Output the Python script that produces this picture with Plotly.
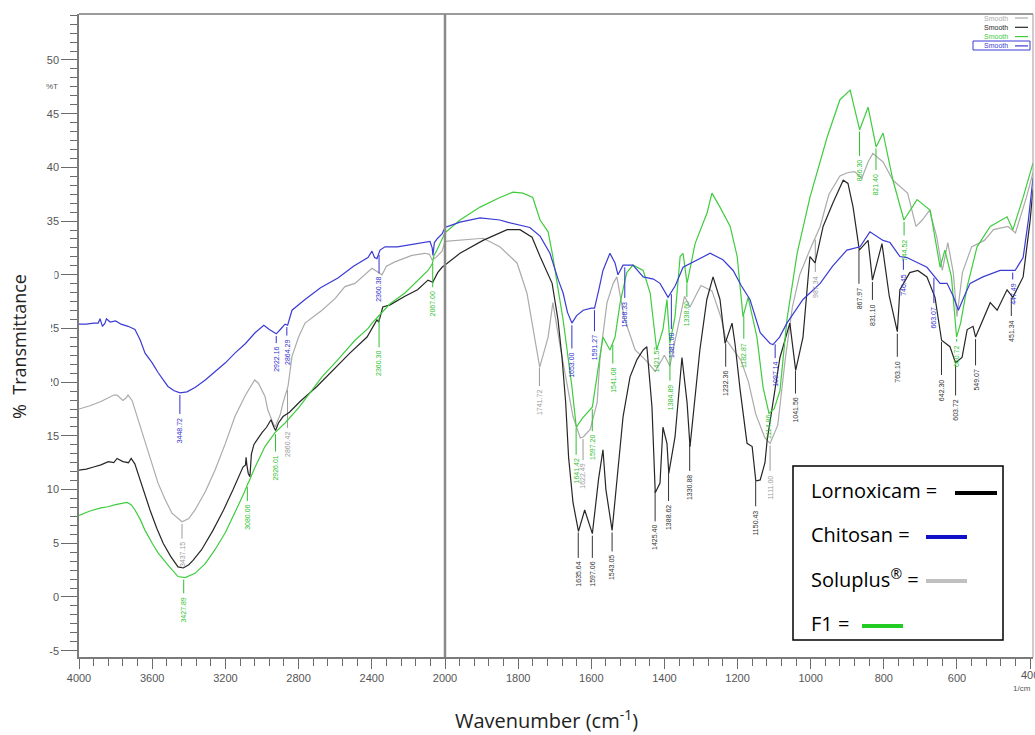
import numpy as np
import plotly.graph_objects as go

# ---------------- spectra: (wavenumber 1/cm, %T) ----------------
LORNOXICAM = [
    (4000, 11.8), (3960, 11.9), (3920, 12.1), (3880, 12.3), (3840, 12.6), (3810, 12.5),
    (3792, 12.9), (3760, 12.6), (3730, 12.5), (3715, 12.9), (3695, 12.4), (3667, 10.9),
    (3640, 9.4), (3612, 8.1), (3575, 6.4), (3540, 5.0), (3500, 3.8), (3459, 2.8),
    (3430, 2.7), (3400, 3.0), (3377, 3.4), (3330, 4.4), (3268, 6.2), (3210, 8.1),
    (3158, 10.0), (3120, 11.4), (3104, 12.1), (3090, 12.3), (3087, 13.0), (3082, 12.2),
    (3075, 11.5), (3066, 11.2), (3058, 13.3), (3044, 14.2), (3000, 15.3), (2975, 15.8),
    (2951, 16.5), (2935, 15.8), (2926, 15.5), (2910, 16.2), (2885, 16.8), (2850, 17.2),
    (2792, 18.2), (2700, 19.6), (2612, 21.1), (2520, 22.7), (2426, 24.2), (2390, 25.2),
    (2372, 25.8), (2362, 25.6), (2340, 27.0), (2300, 27.2), (2219, 28.0), (2150, 28.6),
    (2093, 29.5), (2067, 29.3), (2040, 30.2), (2016, 30.7), (2000, 30.9),
    (1959, 32.0), (1896, 33.2), (1830, 34.2), (1795, 34.2), (1762, 33.5), (1740, 31.7),
    (1707, 29.2), (1691, 25.8), (1680, 22.3), (1670, 18.1), (1662, 13.0), (1650, 8.8),
    (1635, 6.1), (1618, 8.1), (1597, 5.9), (1580, 11.0), (1568, 13.7), (1560, 10.0),
    (1543, 6.2), (1513, 16.8), (1494, 20.5), (1475, 22.1), (1458, 23.0), (1448, 23.3),
    (1434, 17.7), (1425, 9.7), (1412, 10.6), (1404, 15.8), (1393, 14.3), (1388, 11.5),
    (1371, 14.9), (1352, 22.3), (1338, 18.1), (1330, 14.0), (1303, 23.0), (1284, 27.7),
    (1267, 29.8), (1248, 27.7), (1234, 23.6), (1215, 25.5), (1207, 23.6), (1193, 19.3),
    (1174, 14.3), (1160, 14.0), (1150, 10.8), (1138, 10.9), (1125, 12.5), (1119, 14.6),
    (1084, 22.3), (1057, 25.5), (1041, 21.1), (1021, 24.2), (1002, 31.7), (988, 31.1),
    (966, 34.5), (939, 36.7), (911, 38.8), (898, 38.5), (884, 36.3), (867, 32.3),
    (843, 33.2), (831, 29.5), (805, 32.9), (785, 28.0), (763, 24.7), (756, 28.6),
    (729, 30.2), (707, 30.4), (682, 29.8), (660, 27.9), (642, 23.9), (619, 23.3),
    (604, 21.8), (586, 22.3), (572, 24.9), (556, 25.2), (549, 24.2), (509, 27.4),
    (490, 26.7), (463, 28.6), (447, 27.9), (419, 29.8), (400, 35.0), (392, 38.0),
]

CHITOSAN = [
    (4000, 25.4), (3960, 25.4), (3920, 25.5), (3895, 25.5), (3885, 25.9), (3872, 25.2),
    (3858, 25.5), (3850, 25.9), (3830, 25.6), (3800, 25.7), (3770, 25.4), (3732, 25.2),
    (3694, 24.9), (3665, 23.9), (3639, 22.7), (3600, 21.8), (3568, 20.9), (3514, 19.6),
    (3480, 19.2), (3448, 19.0), (3410, 19.1), (3366, 19.5), (3310, 20.2), (3257, 21.0),
    (3200, 21.8), (3148, 22.7), (3090, 23.6), (3038, 24.6), (2990, 25.3), (2960, 24.9),
    (2922, 24.5), (2895, 25.0), (2874, 25.4), (2860, 25.3), (2836, 26.7), (2765, 27.7),
    (2680, 28.8), (2585, 29.7), (2500, 30.8), (2421, 31.6), (2399, 32.2), (2385, 31.6),
    (2372, 31.5), (2355, 32.3), (2328, 32.6), (2260, 32.6), (2219, 32.7), (2150, 32.9),
    (2082, 33.1), (2070, 32.5), (2066, 31.8), (2058, 33.0), (2040, 33.4), (2016, 33.8),
    (2000, 34.4),
    (1959, 34.9), (1904, 35.3), (1850, 35.1), (1830, 34.9), (1768, 34.4), (1740, 33.6),
    (1713, 32.0), (1690, 29.5), (1677, 28.3), (1665, 26.5), (1653, 25.5), (1640, 26.2),
    (1622, 26.7), (1600, 26.9), (1591, 26.9), (1580, 28.5), (1568, 30.4), (1549, 32.0),
    (1540, 31.5), (1535, 31.1), (1527, 30.0), (1513, 30.9), (1486, 30.9), (1458, 29.8),
    (1430, 29.6), (1412, 29.2), (1390, 27.9), (1370, 29.0), (1349, 30.7), (1310, 31.4),
    (1275, 32.0), (1240, 31.4), (1212, 30.4), (1190, 29.0), (1166, 27.7), (1138, 24.6),
    (1111, 23.6), (1103, 23.5), (1085, 24.2), (1065, 25.5), (1021, 27.7), (974, 29.2),
    (940, 30.8), (901, 32.3), (865, 32.6), (838, 34.0), (802, 33.2), (783, 33.0),
    (756, 31.7), (737, 31.6), (700, 31.0), (682, 30.7), (646, 29.2), (627, 29.2),
    (610, 28.0), (596, 26.7), (580, 28.0), (564, 29.2), (529, 29.8), (482, 30.4),
    (441, 30.4), (430, 31.0), (419, 31.6), (405, 35.0), (392, 39.0),
]

SOLUPLUS = [
    (4000, 17.5), (3940, 17.8), (3880, 18.2), (3842, 18.5), (3810, 18.8), (3792, 18.8),
    (3760, 18.3), (3745, 18.5), (3732, 18.8), (3710, 18.3), (3683, 16.8), (3655, 15.3),
    (3628, 13.7), (3600, 12.2), (3568, 10.6), (3530, 9.1), (3492, 7.8), (3437, 7.0),
    (3400, 7.3), (3366, 8.1), (3310, 9.8), (3257, 11.8), (3200, 14.3), (3148, 16.8),
    (3090, 18.8), (3040, 20.2), (3020, 19.9), (2984, 18.7), (2968, 17.4), (2945, 16.4),
    (2929, 15.8), (2900, 17.0), (2885, 18.1), (2858, 19.6), (2845, 21.0), (2836, 22.4),
    (2800, 24.2), (2765, 25.5), (2672, 26.7), (2600, 27.8), (2547, 28.9), (2492, 29.2),
    (2399, 30.6), (2370, 30.3), (2344, 30.0), (2320, 30.8), (2274, 31.2), (2181, 31.8),
    (2109, 32.0), (2085, 31.9), (2071, 31.4), (2050, 31.6), (2016, 32.2), (2000, 33.1),
    (1959, 33.2), (1896, 33.4), (1850, 32.6), (1803, 31.1), (1776, 28.3), (1754, 24.2),
    (1741, 21.4), (1718, 24.2), (1705, 27.4), (1685, 23.3), (1666, 19.6), (1650, 16.8),
    (1630, 14.8), (1622, 14.9), (1603, 15.6), (1584, 18.1), (1576, 22.3), (1557, 27.4),
    (1540, 29.2), (1530, 29.8), (1510, 26.0), (1480, 23.0), (1450, 22.0), (1425, 21.0),
    (1400, 22.5), (1385, 21.5), (1370, 24.0), (1345, 28.0), (1330, 27.0), (1300, 29.0),
    (1270, 28.5), (1245, 26.0), (1232, 24.0), (1210, 23.0), (1190, 22.0), (1170, 20.0),
    (1150, 17.0), (1125, 14.8), (1111, 14.3), (1090, 16.0), (1070, 22.0), (1050, 27.0),
    (1030, 30.0), (1000, 32.5), (974, 34.5), (950, 37.5), (920, 39.2), (900, 39.5),
    (880, 39.6), (860, 39.0), (843, 40.5), (830, 41.3), (802, 40.5), (775, 38.8),
    (750, 38.0), (735, 37.6), (712, 34.5), (695, 35.1), (675, 36.0), (655, 33.5),
    (640, 30.4), (625, 33.0), (610, 30.2), (600, 26.1), (585, 30.2), (560, 32.6),
    (525, 33.2), (500, 34.2), (460, 34.5), (440, 33.9), (410, 37.2), (392, 39.5),
]

F1 = [
    (4000, 7.6), (3940, 8.0), (3880, 8.3), (3842, 8.4), (3800, 8.6), (3760, 8.7),
    (3738, 8.8), (3715, 8.6), (3694, 8.1), (3665, 7.2), (3639, 6.2), (3600, 5.0),
    (3568, 4.1), (3510, 2.9), (3459, 1.9), (3420, 1.8), (3366, 2.2), (3310, 3.1),
    (3257, 4.4), (3200, 6.0), (3148, 7.8), (3100, 9.6), (3076, 10.6), (3070, 10.8),
    (3040, 12.0), (2984, 14.0), (2929, 15.3), (2874, 16.2), (2800, 17.6), (2672, 20.5),
    (2580, 22.2), (2492, 23.9), (2420, 25.0), (2399, 25.5), (2355, 26.3), (2300, 27.3),
    (2219, 28.3), (2150, 29.4), (2093, 30.4), (2070, 31.0), (2060, 31.8), (2044, 32.3),
    (2020, 33.2), (2000, 33.9),
    (1959, 35.1), (1904, 36.3), (1850, 37.2), (1814, 37.7), (1787, 37.6), (1760, 37.2),
    (1740, 35.1), (1718, 34.0), (1705, 31.7), (1690, 28.5), (1677, 25.8), (1653, 19.6),
    (1641, 15.8), (1625, 16.6), (1612, 17.1), (1597, 17.7), (1582, 21.1), (1568, 24.2),
    (1549, 23.0), (1535, 24.2), (1521, 27.4), (1503, 30.2), (1486, 30.9), (1458, 30.4),
    (1439, 28.3), (1421, 23.0), (1404, 24.9), (1393, 27.7), (1385, 23.6), (1371, 26.1),
    (1357, 31.7), (1349, 32.0), (1338, 29.2), (1316, 32.9), (1283, 35.8), (1270, 37.6),
    (1248, 36.3), (1220, 34.5), (1201, 31.7), (1185, 26.1), (1171, 27.9), (1147, 24.2),
    (1130, 19.5), (1114, 17.1), (1100, 17.5), (1084, 19.2), (1065, 25.8), (1037, 32.0),
    (1002, 37.2), (955, 42.8), (920, 46.3), (892, 47.2), (866, 43.5), (843, 45.6),
    (821, 41.9), (802, 43.2), (775, 38.8), (745, 35.1), (709, 37.0), (673, 36.0),
    (646, 30.7), (633, 32.3), (615, 29.8), (601, 24.2), (590, 25.5), (572, 28.9),
    (545, 32.6), (509, 34.5), (463, 35.4), (447, 34.2), (419, 37.2), (392, 40.4),
]

# ---------------- peak labels: (wavenumber, text, label centre %T) ----------------
LORNOXICAM_PEAKS = [
    (1635.64, "1635.64", 2.1), (1597.06, "1597.06", 2.1), (1543.05, "1543.05", 2.7),
    (1425.40, "1425.40", 5.5), (1388.62, "1388.62", 7.4), (1330.88, "1330.88", 10.2),
    (1232.36, "1232.36", 19.9), (1150.43, "1150.43", 6.9), (1041.56, "1041.56", 17.4),
    (867.97, "867.97", 27.8), (831.10, "831.10", 26.3), (763.10, "763.10", 21.0),
    (642.30, "642.30", 19.3), (603.72, "603.72", 17.4), (549.07, "549.07", 20.2),
    (451.34, "451.34", 24.8),
]
CHITOSAN_PEAKS = [
    (3448.72, "3448.72", 15.5), (2922.16, "2922.16", 22.1), (2864.29, "2864.29", 22.8),
    (2360.38, "2360.38", 28.6), (1653.00, "1653.00", 21.6), (1591.27, "1591.27", 23.2),
    (1508.33, "1508.33", 26.3), (1381.00, "1381.00", 23.4), (1097.14, "1097.14", 20.7),
    (746.45, "746.45", 29.1), (663.07, "663.07", 26.0), (447.49, "447.49", 28.2),
]
SOLUPLUS_PEAKS = [
    (3437.15, "3437.15", 3.9), (2860.42, "2860.42", 14.2), (1741.72, "1741.72", 18.1),
    (1622.49, "1622.49", 11.2), (1111.00, "1111.00", 10.2), (987.34, "987.34", 28.9),
]
F1_PEAKS = [
    (3427.89, "3427.89", -1.2), (3080.06, "3080.06", 7.4), (2926.01, "2926.01", 12.0),
    (2360.30, "2360.30", 21.7), (2067.00, "2067.00", 27.3), (1641.42, "1641.42", 11.7),
    (1597.20, "1597.20", 13.9), (1541.08, "1541.08", 20.2), (1421.57, "1421.57", 22.1),
    (1384.89, "1384.89", 18.6), (1338.60, "1338.60", 26.4), (1182.87, "1182.87", 22.5),
    (1114.86, "1114.86", 15.8), (866.30, "866.30", 39.7), (821.40, "821.40", 38.4),
    (744.52, "744.52", 32.3), (600.72, "600.72", 22.4),
]

SERIES = [
    ("Soluplus®", SOLUPLUS, SOLUPLUS_PEAKS, "#ababab", "#9a9a9a"),
    ("Lornoxicam", LORNOXICAM, LORNOXICAM_PEAKS, "#262626", "#333333"),
    ("F1", F1, F1_PEAKS, "#3fcc3f", "#2fbf2f"),
    ("Chitosan", CHITOSAN, CHITOSAN_PEAKS, "#3b3bd6", "#3030d0"),
]

Y_TICKS = [-5, 0, 5, 10, 15, 20, 25, 30, 35, 40, 45, 50]
X_TICKS_HIGH = [4000, 3600, 3200, 2800, 2400, 2000]
X_TICKS_LOW = [1800, 1600, 1400, 1200, 1000, 800, 600, 400]

# ---------------- geometry ----------------
W, H = 1035, 735
ML, MR, MT, MB = 79, 2, 14, 78
PW, PH = W - ML - MR, H - MT - MB
SPLIT_PX = 445
split = (SPLIT_PX - ML) / PW
Y_RANGE = [-5.59, 54.28]
T_PER_PX = (Y_RANGE[1] - Y_RANGE[0]) / PH


def px(x):
    return (x - ML) / PW


def py(y):
    return (H - MB - y) / PH


fig = go.Figure()
annotations = []
shapes = []

for name, data, peaks, color, label_color in SERIES:
    wn = np.array([p[0] for p in data], dtype=float)
    t = np.array([p[1] for p in data], dtype=float)
    hi = wn >= 2000
    lo = wn <= 2000
    fig.add_trace(go.Scatter(x=wn[hi], y=t[hi], xaxis="x", yaxis="y", mode="lines",
                             line=dict(color=color, width=1.2), name=name, showlegend=False,
                             hoverinfo="skip"))
    fig.add_trace(go.Scatter(x=wn[lo], y=t[lo], xaxis="x2", yaxis="y", mode="lines",
                             line=dict(color=color, width=1.2), name=name, showlegend=False,
                             hoverinfo="skip"))

    # leader lines from each marked peak down to its label
    lx_hi, ly_hi, lx_lo, ly_lo = [], [], [], []
    for pw, txt, ty in peaks:
        tp = float(np.interp(pw, wn[::-1], t[::-1]))
        half = len(txt) * 3.8 / 2 * T_PER_PX
        top = ty + half + 0.3
        if tp - 0.3 > top:
            xs, ys = ([pw, pw, None], [tp - 0.2, top, None])
            if pw >= 2000:
                lx_hi += xs
                ly_hi += ys
            else:
                lx_lo += xs
                ly_lo += ys
        annotations.append(dict(
            x=pw, y=ty, xref="x" if pw >= 2000 else "x2", yref="y", text=txt,
            textangle=-90, showarrow=False, xanchor="center", yanchor="middle",
            font=dict(size=7, color=label_color, family="Liberation Sans")))
    if lx_hi:
        fig.add_trace(go.Scatter(x=lx_hi, y=ly_hi, xaxis="x", yaxis="y", mode="lines",
                                 line=dict(color=label_color, width=1), showlegend=False,
                                 hoverinfo="skip"))
    if lx_lo:
        fig.add_trace(go.Scatter(x=lx_lo, y=ly_lo, xaxis="x2", yaxis="y", mode="lines",
                                 line=dict(color=label_color, width=1), showlegend=False,
                                 hoverinfo="skip"))

tick_font = dict(size=11, color="#555555", family="Liberation Sans")
axis_common = dict(showgrid=False, zeroline=False, showline=True, linecolor="#7a7a7a",
                   linewidth=1.5, ticks="outside", ticklen=10, tickwidth=1.2,
                   tickcolor="#6a6a6a", tickfont=tick_font, anchor="y", automargin=False)

fig.update_layout(
    width=W, height=H,
    margin=dict(l=ML, r=MR, t=MT, b=MB, autoexpand=False),
    paper_bgcolor="white", plot_bgcolor="white",
    xaxis=dict(domain=[0, split], range=[4000, 2000], tickmode="array",
               tickvals=X_TICKS_HIGH, ticktext=[str(v) for v in X_TICKS_HIGH],
               minor=dict(dtick=80, tick0=0, ticklen=7, ticks="outside", tickcolor="#6a6a6a"),
               **axis_common),
    xaxis2=dict(domain=[split, 1], range=[2000, 392], tickmode="array",
                tickvals=X_TICKS_LOW, ticktext=[str(v) for v in X_TICKS_LOW],
                minor=dict(dtick=40, tick0=0, ticklen=7, ticks="outside", tickcolor="#6a6a6a"),
                **axis_common),
    yaxis=dict(range=Y_RANGE, tickmode="array", tickvals=Y_TICKS,
               ticktext=[str(v) for v in Y_TICKS], showgrid=False, zeroline=False,
               showline=True, linecolor="#7a7a7a", linewidth=1.5, ticks="outside",
               ticklen=16, tickwidth=1.2, tickcolor="#6a6a6a", tickfont=tick_font,
               minor=dict(dtick=5 / 6, tick0=0, ticklen=7, ticks="outside", tickcolor="#6a6a6a"),
               anchor="x", automargin=False),
)

# frame: top edge, right edge and the scale-change divider at 2000 1/cm
shapes += [
    dict(type="line", xref="paper", yref="paper", x0=0, x1=1, y0=1, y1=1,
         line=dict(color="#7a7a7a", width=1.5)),
    dict(type="line", xref="paper", yref="paper", x0=1, x1=1, y0=0, y1=1,
         line=dict(color="#9a9a9a", width=1)),
    dict(type="line", xref="paper", yref="paper", x0=split, x1=split, y0=0, y1=1,
         line=dict(color="#8a8a8a", width=2.5)),
]

# small instrument legend in the top right corner
smooth_colors = ["#ababab", "#262626", "#3fcc3f", "#3b3bd6"]
for i, c in enumerate(smooth_colors):
    yy = 18 + i * 9.3
    annotations.append(dict(x=px(1010), y=py(yy), xref="paper", yref="paper", text="Smooth",
                            showarrow=False, xanchor="right", yanchor="middle",
                            font=dict(size=7, color=c, family="Liberation Sans")))
    shapes.append(dict(type="line", xref="paper", yref="paper", x0=px(1015), x1=px(1028),
                       y0=py(yy), y1=py(yy), line=dict(color=c, width=1.2)))
shapes.append(dict(type="rect", xref="paper", yref="paper", x0=px(973), x1=px(1030),
                   y0=py(50), y1=py(41), line=dict(color="#3b3bd6", width=1)))

# boxed key
shapes.append(dict(type="rect", xref="paper", yref="paper", x0=px(793), x1=px(1003),
                   y0=py(640), y1=py(466), line=dict(color="black", width=1.5),
                   fillcolor="white", layer="above"))
key_rows = [
    ("Lornoxicam =", 490, 955, 997, "#000000"),
    ("Chitosan =", 534, 926, 967, "#1010c8"),
    ("Soluplus<sup>®</sup> =", 578, 926, 967, "#c0c0c0"),
    ("F1 =", 623, 862, 903, "#22cc22"),
]
for txt, yy, l0, l1, c in key_rows:
    annotations.append(dict(x=px(809), y=py(yy), xref="paper", yref="paper", text=txt,
                            showarrow=False, xanchor="left", yanchor="middle",
                            font=dict(size=20, color="black", family="Open Sans")))
    shapes.append(dict(type="line", xref="paper", yref="paper", x0=px(l0), x1=px(l1),
                       y0=py(yy + 3), y1=py(yy + 3), line=dict(color=c, width=4),
                       layer="above"))

# white panels behind the y title (they mask the leading digits of some tick labels)
shapes.append(dict(type="rect", xref="paper", yref="paper", x0=px(0), x1=px(54.5),
                   y0=py(300), y1=py(262), line=dict(width=0), fillcolor="white",
                   layer="above"))
shapes.append(dict(type="rect", xref="paper", yref="paper", x0=px(0), x1=px(51),
                   y0=py(396), y1=py(300), line=dict(width=0), fillcolor="white",
                   layer="above"))

annotations += [
    dict(x=px(19), y=py(347), xref="paper", yref="paper", text="%  Transmittance",
         textangle=-90, showarrow=False, xanchor="center", yanchor="middle",
         font=dict(size=18, color="#222222", family="Open Sans")),
    dict(x=px(546), y=py(719), xref="paper", yref="paper", text="Wavenumber (cm<sup>-1</sup>)",
         showarrow=False, xanchor="center", yanchor="middle",
         font=dict(size=20, color="#222222", family="Open Sans")),
    dict(x=px(52), y=py(86), xref="paper", yref="paper", text="%T",
         showarrow=False, xanchor="center", yanchor="middle",
         font=dict(size=8, color="#555555", family="Liberation Sans")),
    dict(x=px(1022), y=py(688), xref="paper", yref="paper", text="1/cm",
         showarrow=False, xanchor="center", yanchor="middle",
         font=dict(size=8, color="#555555", family="Liberation Sans")),
    # last wavenumber tick label sits on the window edge
    dict(x=400, y=0, xref="x2", yref="paper", yshift=-18, text="400",
         showarrow=False, xanchor="center", yanchor="middle",
         font=tick_font),
]

fig.update_layout(annotations=annotations, shapes=shapes)
fig.write_html("out.html")
